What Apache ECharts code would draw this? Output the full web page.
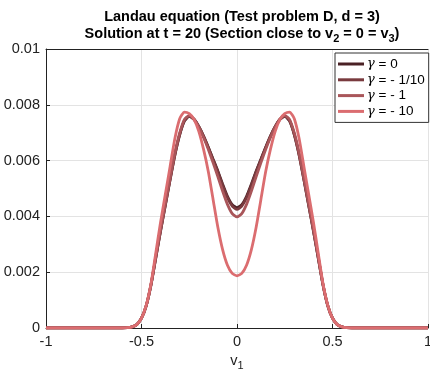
<!DOCTYPE html>
<html>
<head>
<meta charset="utf-8">
<script src="https://cdn.jsdelivr.net/npm/echarts@6/dist/echarts.min.js"></script>
<style>
  html, body { margin: 0; padding: 0; background: #fff; }
  #chart { width: 430px; height: 369px; }
</style>
</head>
<body>
<div id="chart"></div>
<script>
// v1 grid points (section of the solution)
const vPoints = [-1, -0.65, -0.6, -0.575, -0.55, -0.525, -0.5, -0.475, -0.45, -0.425, -0.4, -0.375, -0.35, -0.325,
  -0.3, -0.275, -0.25, -0.225, -0.2, -0.175, -0.15, -0.125, -0.1, -0.075, -0.05, -0.025,
  0, 0.025, 0.05, 0.075, 0.1, 0.125, 0.15, 0.175, 0.2, 0.225, 0.25, 0.275, 0.3,
  0.325, 0.35, 0.375, 0.4, 0.425, 0.45, 0.475, 0.5, 0.525, 0.55, 0.575, 0.6, 0.65, 1]

const gamma0 = [0, 0, 0, 0.00001, 0.00004, 0.00012, 0.00035, 0.0008, 0.00155, 0.00252, 0.00348, 0.0044, 0.00532, 0.0062,
  0.00692, 0.00742, 0.00759, 0.00748, 0.00722, 0.00688, 0.00648, 0.00605, 0.00562, 0.00515, 0.00472, 0.00442,
  0.00431, 0.00442, 0.00472, 0.00515, 0.00562, 0.00605, 0.00648, 0.00688, 0.00722, 0.00748, 0.00759, 0.00742, 0.00692,
  0.0062, 0.00532, 0.0044, 0.00348, 0.00252, 0.00155, 0.0008, 0.00035, 0.00012, 0.00004, 0.00001, 0, 0, 0]

const gammaTenth = [0, 0, 0, 0.00001, 0.00004, 0.00012, 0.00035, 0.0008, 0.00156, 0.00253, 0.0035, 0.00442, 0.00534, 0.00622,
  0.00694, 0.00744, 0.0076, 0.00748, 0.00722, 0.00687, 0.00646, 0.00603, 0.00559, 0.00511, 0.00467, 0.00437,
  0.00425, 0.00437, 0.00467, 0.00511, 0.00559, 0.00603, 0.00646, 0.00687, 0.00722, 0.00748, 0.0076, 0.00744, 0.00694,
  0.00622, 0.00534, 0.00442, 0.0035, 0.00253, 0.00156, 0.0008, 0.00035, 0.00012, 0.00004, 0.00001, 0, 0, 0]

const gammaOne = [0, 0, 0, 0.00001, 0.00004, 0.00012, 0.00035, 0.00081, 0.00157, 0.00256, 0.00353, 0.00446, 0.00538, 0.00627,
  0.00699, 0.00748, 0.00761, 0.00748, 0.0072, 0.00683, 0.0064, 0.00592, 0.00542, 0.0049, 0.00443, 0.0041,
  0.00398, 0.0041, 0.00443, 0.0049, 0.00542, 0.00592, 0.0064, 0.00683, 0.0072, 0.00748, 0.00761, 0.00748, 0.00699,
  0.00627, 0.00538, 0.00446, 0.00353, 0.00256, 0.00157, 0.00081, 0.00035, 0.00012, 0.00004, 0.00001, 0, 0, 0]

const gammaTen = [0, 0, 0, 0.00001, 0.00004, 0.00012, 0.00035, 0.00082, 0.0016, 0.0027, 0.0038, 0.0048, 0.0058, 0.0068,
  0.0075, 0.00774, 0.00768, 0.00748, 0.00705, 0.0064, 0.0056, 0.0046, 0.0036, 0.0028, 0.00225, 0.00196,
  0.00187, 0.00196, 0.00225, 0.0028, 0.0036, 0.0046, 0.0056, 0.0064, 0.00705, 0.00748, 0.00768, 0.00774, 0.0075,
  0.0068, 0.0058, 0.0048, 0.0038, 0.0027, 0.0016, 0.00082, 0.00035, 0.00012, 0.00004, 0.00001, 0, 0, 0]

const seriesNames = ['γ = 0', 'γ = - 1/10', 'γ = - 1', 'γ = - 10']
const seriesColors = ['#4a2125', '#793a3e', '#a9565a', '#db6d70']
const seriesValues = [gamma0, gammaTenth, gammaOne, gammaTen]

const chart = echarts.init(document.getElementById('chart'))
const font = 'Liberation Sans'

const option = {
  animation: false,
  title: [
    {
      text: 'Landau equation (Test problem D, d = 3)',
      left: 237, top: 4, textAlign: 'center',
      textStyle: { fontFamily: font, fontSize: 14.5, fontWeight: 'bold', color: '#000' }
    },
    {
      text: '{t|Solution at t = 20 (Section close to v}{s|2}{t| = 0 = v}{s|3}{t|)}',
      left: 237, top: 20, textAlign: 'center',
      textStyle: {
        rich: {
          t: { fontFamily: font, fontSize: 14.5, fontWeight: 'bold', color: '#000', lineHeight: 18 },
          s: { fontFamily: font, fontSize: 11, fontWeight: 'bold', color: '#000', padding: [9, 0, 0, 0], lineHeight: 18 }
        }
      }
    }
  ],
  legend: {
    orient: 'vertical',
    left: 335, top: 53,
    padding: [4, 4, 4, 3],
    itemGap: 1.8,
    itemWidth: 26, itemHeight: 3,
    icon: 'rect',
    backgroundColor: '#fff',
    borderColor: '#333', borderWidth: 1,
    data: seriesNames,
    formatter: name => '{g|γ}{t|' + name.slice(1) + '}',
    textStyle: {
      padding: [0, 0, 0, -2],
      rich: {
        g: { fontFamily: 'DejaVu Serif', fontStyle: 'italic', fontSize: 13, color: '#000', lineHeight: 12 },
        t: { fontFamily: font, fontSize: 13.5, color: '#000', lineHeight: 12 }
      }
    }
  },
  grid: { left: 46, right: 2, top: 49, bottom: 41, containLabel: false, outerBoundsMode: 'none' },
  xAxis: [
    {
      type: 'value', min: -1, max: 1, interval: 0.5,
      name: '{t|v}{s|1}', nameLocation: 'middle', nameGap: 22,
      nameTextStyle: {
        rich: {
          t: { fontFamily: font, fontSize: 14.5, color: '#222' },
          s: { fontFamily: font, fontSize: 11, color: '#222', padding: [9, 0, 0, 0] }
        }
      },
      axisLine: { onZero: false, lineStyle: { color: '#222', width: 1 } },
      axisTick: { inside: true, length: 4, lineStyle: { color: '#222' } },
      axisLabel: { fontFamily: font, fontSize: 14.5, color: '#222', margin: 6 },
      splitLine: { show: true, lineStyle: { color: '#e3e3e3', width: 1 } }
    },
    {
      type: 'value', min: -1, max: 1, position: 'top',
      axisLine: { show: true, onZero: false, lineStyle: { color: '#222', width: 1 } },
      axisTick: { show: false }, axisLabel: { show: false }, splitLine: { show: false }
    }
  ],
  yAxis: {
    type: 'value', min: 0, max: 0.01, interval: 0.002,
    axisLine: { show: true, onZero: false, lineStyle: { color: '#222', width: 1 } },
    axisTick: { show: true, inside: true, length: 4, lineStyle: { color: '#222' } },
    axisLabel: { fontFamily: font, fontSize: 14.5, color: '#222', margin: 6 },
    splitLine: { show: true, lineStyle: { color: '#e3e3e3', width: 1 } }
  },
  series: seriesNames.map((name, i) => ({
    name: name,
    type: 'line',
    xAxisIndex: 0,
    data: vPoints.map((v, j) => [v, seriesValues[i][j]]),
    showSymbol: false,
    smooth: 0.2,
    color: seriesColors[i],
    lineStyle: { color: seriesColors[i], width: 2.8 }
  }))
}

chart.setOption(option)
</script>
</body>
</html>
